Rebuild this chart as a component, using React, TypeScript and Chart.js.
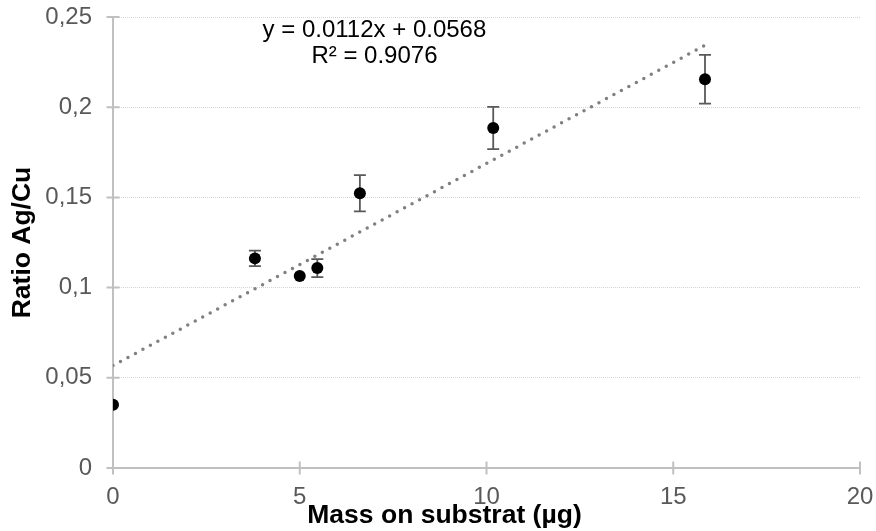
import React, { useEffect, useRef } from 'react';
import { Chart, registerables } from 'chart.js';

Chart.register(...registerables);

// ---- data ----
const massValues = [0, 3.8, 5.0, 5.47, 6.61, 10.18, 15.85];
const ratioValues = [0.035, 0.1162, 0.1064, 0.1108, 0.1523, 0.1885, 0.2155];
const ratioErrors = [0, 0.0043, 0, 0.005, 0.01, 0.0117, 0.0135];
const xTickLabels = ['0', '5', '10', '15', '20'];
const yTickLabels = ['0', '0,05', '0,1', '0,15', '0,2', '0,25'];
const trendSlope = 0.0112;
const trendIntercept = 0.0568;
const equationLines = ['y = 0.0112x + 0.0568', 'R² = 0.9076'];
const equationAnchor = [7, 0.2425];
const xTitle = 'Mass on substrat (µg)';
const yTitle = 'Ratio Ag/Cu';

const FONT = '"Liberation Sans", Arial, sans-serif';
const AXIS_COLOR = '#c0c0c0';
const TICK_TEXT = '#595959';

const decorPlugin = {
  id: 'decor',
  beforeDatasetsDraw(chart: any) {
    const { ctx, chartArea: a, scales } = chart;
    const x = scales.x;
    const y = scales.y;
    ctx.save();
    ctx.setLineDash([]);
    ctx.strokeStyle = AXIS_COLOR;
    ctx.lineWidth = 2;
    ctx.beginPath();
    ctx.moveTo(a.left, a.top);
    ctx.lineTo(a.left, a.bottom);
    ctx.moveTo(a.left, a.bottom);
    ctx.lineTo(a.right, a.bottom);
    x.ticks.forEach((t: any) => {
      const px = x.getPixelForValue(t.value);
      ctx.moveTo(px, a.bottom - 6.5);
      ctx.lineTo(px, a.bottom + 6.5);
    });
    y.ticks.forEach((t: any) => {
      const py = y.getPixelForValue(t.value);
      ctx.moveTo(a.left - 6.5, py);
      ctx.lineTo(a.left + 6.5, py);
    });
    ctx.stroke();

    // error bars
    ctx.strokeStyle = '#595959';
    ctx.lineWidth = 1.8;
    ctx.beginPath();
    massValues.forEach((m, i) => {
      const e = ratioErrors[i];
      if (!e) return;
      const px = x.getPixelForValue(m);
      const top = y.getPixelForValue(ratioValues[i] + e);
      const bot = y.getPixelForValue(ratioValues[i] - e);
      ctx.moveTo(px, top);
      ctx.lineTo(px, bot);
      ctx.moveTo(px - 6, top);
      ctx.lineTo(px + 6, top);
      ctx.moveTo(px - 6, bot);
      ctx.lineTo(px + 6, bot);
    });
    ctx.stroke();
    ctx.restore();
  },
  afterDraw(chart: any) {
    const { ctx, chartArea: a, scales } = chart;
    const x = scales.x;
    const y = scales.y;
    ctx.save();
    // trendline equation
    ctx.fillStyle = '#000000';
    ctx.font = `24px ${FONT}`;
    ctx.textAlign = 'center';
    ctx.textBaseline = 'middle';
    const ex = x.getPixelForValue(equationAnchor[0]);
    const ey = y.getPixelForValue(equationAnchor[1]);
    equationLines.forEach((line, i) => {
      ctx.fillText(line, ex, ey + i * 25.5);
    });
    // x axis title
    ctx.font = `bold 26.5px ${FONT}`;
    ctx.fillText(xTitle, (a.left + a.right) / 2 - 42, a.bottom + 47.5);
    ctx.restore();
  },
};

export default function App() {
  const ref = useRef<HTMLCanvasElement | null>(null);

  useEffect(() => {
    if (!ref.current) return;
    const xMax = Math.max(...massValues);
    const chart = new Chart(ref.current, {
      type: 'scatter',
      data: {
        datasets: [
          {
            label: 'Ratio',
            data: massValues.map((m, i) => ({ x: m, y: ratioValues[i] })),
            backgroundColor: '#000000',
            borderWidth: 0,
            pointRadius: 6,
            pointHoverRadius: 6,
            showLine: false,
          },
          {
            label: 'Trend',
            data: [
              { x: 0, y: trendIntercept },
              { x: xMax, y: trendSlope * xMax + trendIntercept },
            ],
            showLine: true,
            borderColor: '#808080',
            borderWidth: 3.5,
            borderDash: [0, 8.5],
            borderCapStyle: 'round',
            pointRadius: 0,
            pointHoverRadius: 0,
            fill: false,
          } as any,
        ],
      },
      options: {
        animation: false,
        responsive: false,
        events: [],
        layout: { padding: { left: 0, top: 17, right: 16, bottom: 0 } },
        plugins: {
          legend: { display: false },
          tooltip: { enabled: false },
          title: { display: false },
        },
        scales: {
          x: {
            type: 'linear',
            min: 0,
            max: 20,
            grid: { display: false, drawTicks: false },
            border: { display: false },
            ticks: {
              stepSize: 5,
              padding: 15,
              color: TICK_TEXT,
              font: { family: FONT, size: 24 },
              callback: (_v: any, i: number) => xTickLabels[i],
            },
            afterFit: (s: any) => {
              s.height = 63;
              s.paddingLeft = 0;
              s.paddingRight = 0;
            },
          },
          y: {
            type: 'linear',
            min: 0,
            max: 0.25,
            grid: { display: true, drawTicks: false, color: '#d4d4d4', lineWidth: 1 },
            border: { display: false, dash: [1, 1] },
            ticks: {
              stepSize: 0.05,
              padding: 21,
              color: TICK_TEXT,
              font: { family: FONT, size: 24 },
              callback: (_v: any, i: number) => yTickLabels[i],
            },
            title: {
              display: true,
              text: yTitle,
              color: '#000000',
              font: { family: FONT, size: 26.5, weight: 'bold' },
              padding: { top: 7, bottom: 0 },
            },
            afterFit: (s: any) => {
              s.width = 113;
              s.paddingTop = 0;
              s.paddingBottom = 0;
            },
          },
        },
      } as any,
      plugins: [decorPlugin],
    });
    return () => chart.destroy();
  }, []);

  return (
    <div style={{ position: 'absolute', left: 0, top: 0, width: 876, height: 531, background: '#ffffff' }}>
      <canvas ref={ref} width={876} height={531} style={{ display: 'block' }} />
    </div>
  );
}
